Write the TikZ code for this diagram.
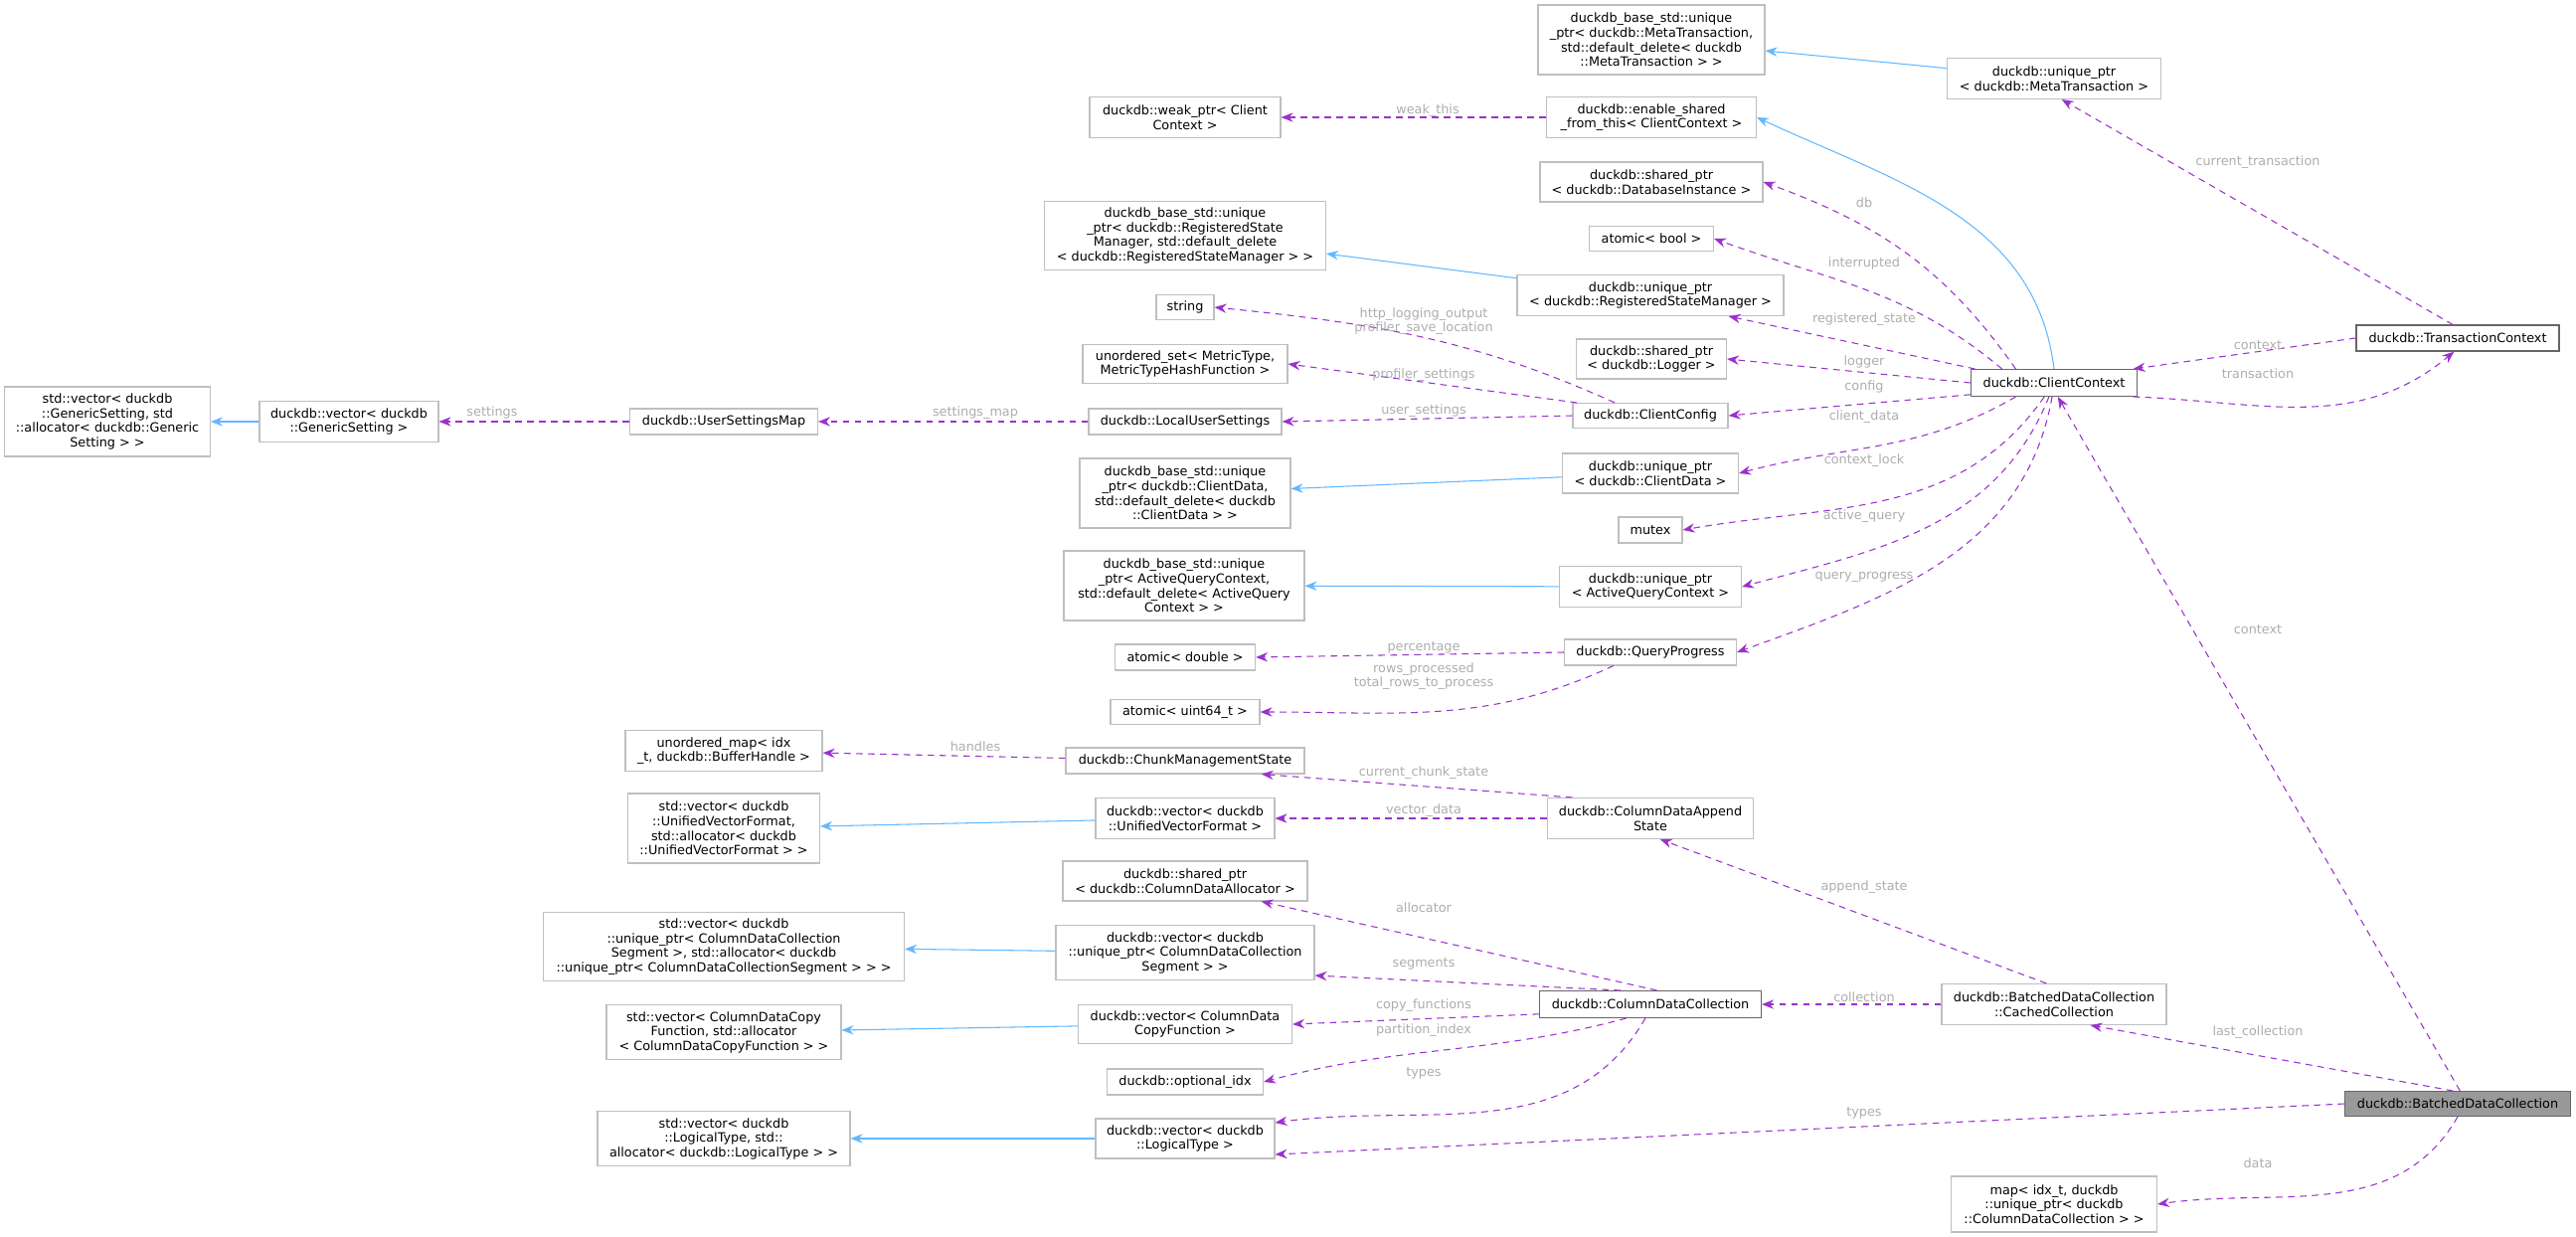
\documentclass[tikz,border=0pt]{standalone}
\usepackage{fontspec}
\setmainfont{DejaVu Sans}
\usetikzlibrary{arrows.meta}
\definecolor{edgeP}{HTML}{9A32CD}
\definecolor{edgeB}{HTML}{63B8FF}
\definecolor{bord}{HTML}{BFBFBF}
\definecolor{labc}{HTML}{ADADAD}
\newcommand{\nd}[7][]{\node[box,#1,minimum width=#5*0.75pt,minimum height=#6*0.75pt] (#2) at (#3,#4) {#7};}
\begin{document}
\begin{tikzpicture}[x=0.75pt,y=-0.75pt,
  every node/.style={font=\fontsize{9.6}{10.9}\selectfont},
  box/.style={draw=bord,fill=white,inner sep=0pt,align=center,line width=0.8pt},
  main/.style={draw=black!60},
  lab/.style={text=labc,align=center,inner sep=0pt},
  comp/.style={draw=edgeP,dashed,dash pattern=on 5pt off 4pt,line width=0.8pt,-{Stealth[length=9pt,width=7pt]}},
  inh/.style={draw=edgeB,line width=0.8pt,-{Stealth[length=9pt,width=7pt]}}]
\useasboundingbox (0,0) rectangle (2591,1243);
% nodes
\nd{metaB}{1661}{40}{228}{70}{duckdb\_base\_std::unique\\\_ptr< duckdb::MetaTransaction,\\std::default\_delete< duckdb\\::MetaTransaction > >}
\nd{uM}{2066}{79}{215}{41}{duckdb::unique\_ptr\\< duckdb::MetaTransaction >}
\nd{weak}{1192}{118}{192}{41}{duckdb::weak\_ptr< Client\\Context >}
\nd{es}{1661}{118}{211}{41}{duckdb::enable\_shared\\\_from\_this< ClientContext >}
\nd{dbi}{1661}{183}{224}{40}{duckdb::shared\_ptr\\< duckdb::DatabaseInstance >}
\nd{regB}{1192}{237}{283}{69}{duckdb\_base\_std::unique\\\_ptr< duckdb::RegisteredState\\Manager, std::default\_delete\\< duckdb::RegisteredStateManager > >}
\nd{abool}{1661}{240}{125}{25}{atomic< bool >}
\nd{uReg}{1660}{297}{268}{41}{duckdb::unique\_ptr\\< duckdb::RegisteredStateManager >}
\nd{str}{1192}{309}{58}{25}{string}
\nd{uset}{1192}{366}{206}{39}{unordered\_set< MetricType,\\MetricTypeHashFunction >}
\nd{logr}{1661}{361}{151}{40}{duckdb::shared\_ptr\\< duckdb::Logger >}
\nd[main]{CC}{2066}{385}{167}{27}{duckdb::ClientContext}
\nd[main]{TC}{2472}{340}{204}{26}{duckdb::TransactionContext}
\nd{cfg}{1660}{418}{156}{25}{duckdb::ClientConfig}
\nd{sgv}{108}{424}{207}{70}{std::vector< duckdb\\::GenericSetting, std\\::allocator< duckdb::Generic\\Setting > >}
\nd{vg}{351}{424}{180}{41}{duckdb::vector< duckdb\\::GenericSetting >}
\nd{usm}{728}{424}{189}{26}{duckdb::UserSettingsMap}
\nd{lus}{1192}{424}{194}{26}{duckdb::LocalUserSettings}
\nd{cdB}{1192}{496}{212}{70}{duckdb\_base\_std::unique\\\_ptr< duckdb::ClientData,\\std::default\_delete< duckdb\\::ClientData > >}
\nd{uCD}{1660}{476}{177}{40}{duckdb::unique\_ptr\\< duckdb::ClientData >}
\nd{mtx}{1660}{533}{64}{26}{mutex}
\nd{aqB}{1191}{589}{242}{70}{duckdb\_base\_std::unique\\\_ptr< ActiveQueryContext,\\std::default\_delete< ActiveQuery\\Context > >}
\nd{uAQ}{1660}{590}{183}{41}{duckdb::unique\_ptr\\< ActiveQueryContext >}
\nd{qp}{1660}{656}{173}{26}{duckdb::QueryProgress}
\nd{adbl}{1192}{661}{141}{26}{atomic< double >}
\nd{au64}{1192}{716}{150}{25}{atomic< uint64\_t >}
\nd{umap}{728}{755}{198}{41}{unordered\_map< idx\\\_t, duckdb::BufferHandle >}
\nd{cms}{1192}{765}{240}{26}{duckdb::ChunkManagementState}
\nd{suvf}{728}{833}{193}{70}{std::vector< duckdb\\::UnifiedVectorFormat,\\std::allocator< duckdb\\::UnifiedVectorFormat > >}
\nd{vuvf}{1192}{823}{180}{41}{duckdb::vector< duckdb\\::UnifiedVectorFormat >}
\nd{cdas}{1660}{823}{207}{41}{duckdb::ColumnDataAppend\\State}
\nd{alloc}{1192}{886}{246}{40}{duckdb::shared\_ptr\\< duckdb::ColumnDataAllocator >}
\nd{sseg}{728}{952}{363}{69}{std::vector< duckdb\\::unique\_ptr< ColumnDataCollection\\Segment >, std::allocator< duckdb\\::unique\_ptr< ColumnDataCollectionSegment > > >}
\nd{vseg}{1192}{958}{260}{55}{duckdb::vector< duckdb\\::unique\_ptr< ColumnDataCollection\\Segment > >}
\nd[main]{cdc}{1660}{1010}{223}{27}{duckdb::ColumnDataCollection}
\nd{cc2}{2066}{1010}{226}{41}{duckdb::BatchedDataCollection\\::CachedCollection}
\nd{scopy}{728}{1038}{236}{55}{std::vector< ColumnDataCopy\\Function, std::allocator\\< ColumnDataCopyFunction > >}
\nd{vcopy}{1192}{1030}{215}{39}{duckdb::vector< ColumnData\\CopyFunction >}
\nd{oidx}{1192}{1088}{157}{26}{duckdb::optional\_idx}
\nd[main,fill=black!40]{bdc}{2472}{1110}{227}{25}{duckdb::BatchedDataCollection}
\nd{slt}{728}{1145}{254}{55}{std::vector< duckdb\\::LogicalType, std::\\allocator< duckdb::LogicalType > >}
\nd{vlt}{1192}{1145}{180}{40}{duckdb::vector< duckdb\\::LogicalType >}
\nd{map}{2066}{1211}{207}{56}{map< idx\_t, duckdb\\::unique\_ptr< duckdb\\::ColumnDataCollection > >}
% inheritance
\draw[inh] (uM) -- (metaB);
\draw[inh] (CC.north) to[out=97,in=-25] (es.east);
\draw[inh] (uReg) -- (regB);
\draw[inh] (uCD) -- (cdB);
\draw[inh] (uAQ) -- (aqB);
\draw[inh] (vg) -- (sgv);
\draw[inh] (vuvf) -- (suvf);
\draw[inh] (vseg) -- (sseg);
\draw[inh] (vcopy) -- (scopy);
\draw[inh] (vlt) -- (slt);
% composition
\draw[comp] (es) -- (weak);
\draw[comp] (TC.110) -- (uM.290);
\draw[comp] (CC.160) to[out=125,in=-20] (dbi.east);
\draw[comp] (CC.165) to[out=140,in=-20] (abool.east);
\draw[comp] (CC.170) -- (uReg.-15);
\draw[comp] (CC.west) -- (logr.east);
\draw[comp] (CC.188) -- (cfg.east);
\draw[comp] (CC.200) to[out=-150,in=15] (uCD.east);
\draw[comp] (CC.235) to[out=-125,in=10] (mtx.east);
\draw[comp] (CC.250) to[out=-112,in=15] (uAQ.east);
\draw[comp] (CC.262) to[out=-100,in=20] (qp.east);
\draw[comp] (TC.west) -- (CC.10);
\draw[comp] (CC.-10) to[out=-2,in=-140] (TC.255);
\draw[comp] (cfg.160) .. controls (1480,340) and (1380,325) .. (str.east);
\draw[comp] (cfg.170) -- (uset.east);
\draw[comp] (cfg.west) -- (lus.east);
\draw[comp] (lus) -- (usm);
\draw[comp] (usm) -- (vg);
\draw[comp] (qp.west) -- (adbl.east);
\draw[comp] (qp.200) to[out=-155,in=0] (au64.east);
\draw[comp] (cms) -- (umap);
\draw[comp] (cdas.165) -- (cms.-10);
\draw[comp] (cdas.west) -- (vuvf.east);
\draw[comp] (cdc.65) -- (alloc.-15);
\draw[comp] (cdc.155) -- (vseg.-10);
\draw[comp] (cdc.185) -- (vcopy.east);
\draw[comp] (cdc.210) to[out=-165,in=15] (oidx.east);
\draw[comp] (cdc.250) to[out=-120,in=8] (vlt.10);
\draw[comp] (cc2) -- (cdc);
\draw[comp] (cc2.110) -- (cdas.-65);
\draw[comp] (bdc.80) -- (CC.-75);
\draw[comp] (bdc.110) -- (cc2.-30);
\draw[comp] (bdc.west) -- (vlt.-10);
\draw[comp] (bdc.-90) to[out=-120,in=8] (map.east);
% labels
\node[lab] (l1) at (1436,111) {weak\_this};
\node[lab] (l2) at (2271,163) {current\_transaction};
\node[lab] (l3) at (1875,204) {db};
\node[lab] (l4) at (1875,265) {interrupted};
\node[lab] (l5) at (1875,321) {registered\_state};
\node[lab] (l6) at (1432,323) {http\_logging\_output\\profiler\_save\_location};
\node[lab] (l7) at (1875,364) {logger};
\node[lab] (l8) at (1432,377) {profiler\_settings};
\node[lab] (l9) at (1875,389) {config};
\node[lab] (l10) at (2271,347) {context};
\node[lab] (l11) at (2271,376) {transaction};
\node[lab] (l12) at (1432,413) {user\_settings};
\node[lab] (l13) at (1875,419) {client\_data};
\node[lab] (l14) at (495,415) {settings};
\node[lab] (l15) at (981,415) {settings\_map};
\node[lab] (l16) at (1875,463) {context\_lock};
\node[lab] (l17) at (1875,519) {active\_query};
\node[lab] (l18) at (1875,580) {query\_progress};
\node[lab] (l19) at (2271,633) {context};
\node[lab] (l20) at (1432,651) {percentage};
\node[lab] (l21) at (1432,680) {rows\_processed\\total\_rows\_to\_process};
\node[lab] (l22) at (981,751) {handles};
\node[lab] (l23) at (1432,777) {current\_chunk\_state};
\node[lab] (l24) at (1432,815) {vector\_data};
\node[lab] (l25) at (1875,892) {append\_state};
\node[lab] (l26) at (1432,913) {allocator};
\node[lab] (l27) at (1432,969) {segments};
\node[lab] (l28) at (1875,1003) {collection};
\node[lab] (l29) at (1432,1011) {copy\_functions};
\node[lab] (l30) at (1432,1036) {partition\_index};
\node[lab] (l31) at (2271,1038) {last\_collection};
\node[lab] (l32) at (1432,1079) {types};
\node[lab] (l33) at (1875,1119) {types};
\node[lab] (l34) at (2271,1170) {data};
\end{tikzpicture}
\end{document}
